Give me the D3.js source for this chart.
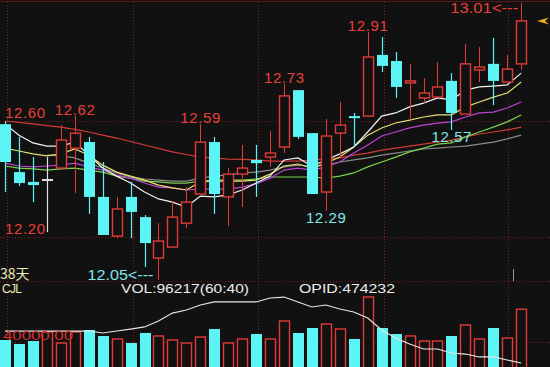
<!DOCTYPE html>
<html lang="zh">
<head>
<meta charset="UTF-8">
<title>K线</title>
<script src="https://d3js.org/d3.v7.min.js"></script>
<style>
  body, html { margin: 0; padding: 0; background: #111; overflow: hidden; }
  svg text { font-family: "Liberation Sans", Arial, sans-serif; }
</style>
</head>
<body>
<svg id="chart" width="550" height="367"></svg>
<script>
// daily candles, 38 days
const opens  = [12.59, 12.424, 12.390, 12.400, 12.438, 12.507, 12.528, 12.338, 12.202, 12.338,
                12.268, 12.126, 12.164, 12.247, 12.348, 12.528, 12.338, 12.417, 12.466, 12.476,
                12.511, 12.708, 12.559, 12.355, 12.559, 12.618, 12.618, 12.830, 12.809, 12.733,
                12.681, 12.684, 12.740, 12.625, 12.778, 12.799, 12.736, 12.799];
const highs  = [12.60, 12.546, 12.476, 12.476, 12.587, 12.62, 12.546, 12.459, 12.338, 12.390,
                12.275, 12.247, 12.324, 12.372, 12.59, 12.546, 12.438, 12.518, 12.518, 12.566,
                12.73, 12.708, 12.559, 12.608, 12.667, 12.629, 12.91, 12.892, 12.840, 12.799,
                12.750, 12.805, 12.767, 12.868, 12.857, 12.889, 12.830, 13.01];
const lows   = [12.355, 12.376, 12.320, 12.216, 12.438, 12.351, 12.279, 12.206, 12.195, 12.195,
                12.095, 12.05, 12.164, 12.230, 12.348, 12.279, 12.237, 12.303, 12.338, 12.442,
                12.490, 12.539, 12.348, 12.29, 12.476, 12.511, 12.618, 12.771, 12.681, 12.604,
                12.663, 12.684, 12.57, 12.625, 12.736, 12.656, 12.736, 12.778];
const closes = [12.459, 12.386, 12.379, 12.400, 12.535, 12.559, 12.338, 12.206, 12.296, 12.286,
                12.178, 12.185, 12.268, 12.320, 12.528, 12.348, 12.417, 12.438, 12.455, 12.490,
                12.688, 12.546, 12.348, 12.549, 12.587, 12.611, 12.823, 12.792, 12.719, 12.740,
                12.698, 12.719, 12.629, 12.799, 12.788, 12.740, 12.781, 12.948];

const volumes = [45000, 38300, 43300, 58300, 40000, 58300, 61700, 51700, 46700, 40000,
                 56700, 51700, 45000, 40000, 50000, 63300, 40000, 46700, 55000, 46700,
                 76700, 56700, 65000, 71700, 63300, 46700, 116700, 65000, 55000, 51700,
                 43300, 43300, 51700, 70000, 46700, 65000, 48300, 96217];
const opid = [508000, 508000, 508000, 508000, 508000, 508000, 508000, 505900, 508000, 510100,
              512300, 518600, 527000, 530200, 535500, 538700, 538700, 538700, 538700, 542900,
              543900, 538700, 533400, 535500, 531300, 528100, 521800, 509100, 500600, 494300,
              489000, 489000, 484800, 483700, 480600, 480600, 477400, 474232];

// moving averages (null = not drawn)
const maWhite  = [12.591, 12.552, 12.525, 12.514, 12.514, 12.528, 12.483, 12.438, 12.410, 12.386,
                  12.355, 12.331, 12.320, 12.303, 12.341, 12.338, 12.345, 12.362, 12.386, 12.410,
                  12.466, 12.473, 12.445, 12.466, 12.487, 12.511, 12.563, 12.618, 12.629, 12.650,
                  12.663, 12.681, 12.674, 12.708, 12.719, 12.722, 12.726, 12.767];
const maYellow = [12.507, 12.497, 12.487, 12.480, 12.487, 12.504, 12.483, 12.448, 12.424, 12.410,
                  12.396, 12.379, 12.369, 12.362, 12.390, 12.393, 12.393, 12.393, 12.396, 12.417,
                  12.445, 12.452, 12.438, 12.455, 12.476, 12.511, 12.552, 12.577, 12.594, 12.604,
                  12.615, 12.622, 12.622, 12.650, 12.667, 12.684, 12.698, 12.736];
const maPurple = [12.455, 12.445, 12.442, 12.445, 12.448, 12.455, 12.442, 12.431, 12.414, 12.403,
                  12.386, 12.372, 12.369, 12.362, 12.365, 12.365, 12.365, 12.372, 12.383, 12.403,
                  12.431, 12.438, 12.431, 12.442, 12.459, 12.490, 12.518, 12.549, 12.563, 12.577,
                  12.587, 12.594, 12.598, 12.615, 12.629, 12.632, 12.646, 12.667];
const maGreen  = [12.445, 12.438, 12.435, 12.431, 12.435, 12.438, 12.431, 12.424, 12.410, 12.403,
                  12.393, 12.390, 12.386, 12.386, 12.393, 12.396, 12.396, 12.396, 12.400, 12.407,
                  12.407, 12.407, 12.407, 12.403, 12.410, 12.421, 12.442, 12.459, 12.476, 12.494,
                  12.507, 12.521, 12.525, 12.546, 12.563, 12.580, 12.598, 12.622];
const maRed    = [12.601, 12.596, 12.591, 12.585, 12.580, 12.572, 12.563, 12.552, 12.542, 12.530,
                  12.518, 12.506, 12.494, 12.485, 12.476, 12.473, 12.469, 12.468, 12.466, 12.462,
                  12.462, 12.462, 12.466, 12.469, 12.473, 12.483, 12.490, 12.500, 12.507, 12.514,
                  12.521, 12.528, 12.535, 12.546, 12.556, 12.563, 12.570, 12.580];
const maGray   = [null, null, null, 12.483, 12.480, 12.473, 12.455, 12.438, 12.421, 12.407,
                  12.400, 12.396, 12.393, 12.393, 12.403, 12.410, 12.414, 12.421, 12.424, 12.431,
                  12.442, 12.448, 12.445, 12.448, 12.459, 12.466, 12.473, 12.483, 12.490, 12.497,
                  12.504, 12.507, 12.511, 12.514, 12.521, 12.528, 12.539, 12.552];

// axis ticks
const priceTicks = [12.60, 12.20];
const volTicks = [40000];

// price marks: [day, text, kind]
const priceMarks = [
  [5, "12.62", "high"], [14, "12.59", "high"], [20, "12.73", "high"],
  [26, "12.91", "high"], [37, "13.01<---", "max"],
  [11, "12.05<---", "min"], [23, "12.29", "low"], [32, "12.57", "low"]
];

const RED = "#e23a36", CYAN = "#5cf4f4", GRID = "#7a1c1c", LABEL_RED = "#e8403a";

const svg = d3.select("#chart");
svg.append("rect").attr("width", 550).attr("height", 367).attr("fill", "#111");

const x = d3.scaleLinear().domain([0, 37]).range([5, 521.2]);
const y = d3.scaleLinear().domain([12.05, 13.01]).range([280, 3]);
const yVol = d3.scaleLinear().domain([0, 40000]).range([367, 343]);
const yOpid = d3.scaleLinear().domain([470000, 545000]).range([367, 296]);

// grid
const grid = svg.append("g");
[7, 133, 258, 384, 508].forEach(gx => {
  grid.append("line").attr("x1", gx + 0.5).attr("x2", gx + 0.5).attr("y1", 2).attr("y2", 367)
    .attr("stroke", GRID).attr("stroke-dasharray", "1,2");
});
const hLines = priceTicks.map(p => Math.round(y(p))).concat([281], volTicks.map(v => Math.round(yVol(v)) - 1));
hLines.forEach(gy => {
  grid.append("line").attr("x1", 0).attr("x2", 550).attr("y1", gy + 0.5).attr("y2", gy + 0.5)
    .attr("stroke", GRID).attr("stroke-dasharray", "1,2");
});
grid.append("line").attr("x1", 0).attr("x2", 550).attr("y1", 1.5).attr("y2", 1.5)
  .attr("stroke", "#5a1818");

// moving averages
const line = d3.line().defined(d => d != null).x((d, i) => x(i)).y(d => y(d));
[[maRed, "#d23a34"], [maGray, "#8a8a8a"], [maGreen, "#7ad24c"], [maPurple, "#c040d8"],
 [maYellow, "#e8e070"], [maWhite, "#f2f2f2"]].forEach(([vals, c]) => {
  svg.append("path").attr("d", line(vals)).attr("fill", "none").attr("stroke", c).attr("stroke-width", 1.2);
});

// candles
const bw = 10;
const candles = svg.append("g");
d3.range(38).forEach(i => {
  const cx = Math.round(x(i)) + 0.5;
  const o = opens[i], c = closes[i];
  const top = y(Math.max(o, c)), bot = y(Math.min(o, c));
  const col = c > o ? RED : (c < o ? CYAN : "#e0e0e0");
  const g = candles.append("g");
  if (c > o) {
    g.append("line").attr("x1", cx).attr("x2", cx).attr("y1", y(highs[i])).attr("y2", top).attr("stroke", col);
    g.append("line").attr("x1", cx).attr("x2", cx).attr("y1", bot).attr("y2", y(lows[i])).attr("stroke", col);
    g.append("rect").attr("x", cx - bw / 2).attr("y", top).attr("width", bw).attr("height", Math.max(1, bot - top))
      .attr("fill", "#111").attr("stroke", col).attr("stroke-width", 1.4);
  } else {
    g.append("line").attr("x1", cx).attr("x2", cx).attr("y1", y(highs[i])).attr("y2", y(lows[i])).attr("stroke", col).attr("stroke-width", 1.2);
    g.append("rect").attr("x", cx - bw / 2 - 0.5).attr("y", top).attr("width", bw + 1).attr("height", Math.max(2, bot - top))
      .attr("fill", col);
  }
});

// axis labels on the left
const axisG = svg.append("g").attr("font-size", 15).attr("fill", LABEL_RED);
priceTicks.forEach(p => {
  axisG.append("text").attr("x", 5).attr("y", Math.round(y(p)) - 3).attr("textLength", 40).text(p.toFixed(2));
});

// price marks
const marks = svg.append("g").attr("font-size", 15);
priceMarks.forEach(([i, t, kind]) => {
  const isHigh = kind === "high" || kind === "max";
  const tx = marks.append("text").text(t).attr("fill", isHigh ? LABEL_RED : "#7ee8ea");
  if (kind === "high") {
    tx.attr("x", x(i) - 20).attr("y", y(highs[i]) - 1).attr("textLength", 40);
  } else if (kind === "max") {
    tx.attr("x", x(i) - 71).attr("y", 12.5).attr("textLength", 68).attr("lengthAdjust", "spacingAndGlyphs");
  } else if (kind === "min") {
    tx.attr("x", x(i) - 71).attr("y", y(lows[i])).attr("textLength", 66).attr("lengthAdjust", "spacingAndGlyphs");
  } else {
    tx.attr("x", x(i) - 20).attr("y", y(lows[i]) + 12.5).attr("textLength", 40);
  }
});

// latest-price marker
svg.append("polygon").attr("points", "537,21 549,17.5 545,21 549,24.5").attr("fill", "#f0a828");

// volume
const vol = svg.append("g");
d3.range(38).forEach(i => {
  const cx = Math.round(x(i)) + 0.5;
  const up = closes[i] >= opens[i];
  const ty = yVol(volumes[i]);
  if (up) {
    vol.append("rect").attr("x", cx - bw / 2).attr("y", ty).attr("width", bw).attr("height", 368 - ty)
      .attr("fill", "#111").attr("stroke", RED).attr("stroke-width", 1.4);
  } else {
    vol.append("rect").attr("x", cx - bw / 2 - 0.5).attr("y", ty).attr("width", bw + 1).attr("height", 368 - ty)
      .attr("fill", CYAN);
  }
});
svg.append("path").attr("d", d3.line().x((d, i) => x(i)).y(d => yOpid(d))(opid))
  .attr("fill", "none").attr("stroke", "#e6e6e6").attr("stroke-width", 1.2);

// cursor tick
svg.append("line").attr("x1", 513.5).attr("x2", 513.5).attr("y1", 269).attr("y2", 281).attr("stroke", "#9a9a9a");

// captions
svg.append("text").attr("x", 0).attr("y", 279).attr("fill", "#eeeeb0").attr("font-size", 14)
  .style("font-family", "'Noto Sans CJK SC', sans-serif").text("38天");
svg.append("text").attr("x", 2).attr("y", 292.5).attr("fill", "#eeeeb0").attr("font-size", 12).attr("textLength", 20).text("CJL");
svg.append("text").attr("x", 121).attr("y", 293).attr("fill", "#ececec").attr("font-size", 12.5)
  .attr("textLength", 128).attr("lengthAdjust", "spacingAndGlyphs").text("VOL:96217(60:40)");
svg.append("text").attr("x", 299).attr("y", 293).attr("fill", "#ececec").attr("font-size", 12.5)
  .attr("textLength", 96).attr("lengthAdjust", "spacingAndGlyphs").text("OPID:474232");
svg.append("text").attr("x", 3).attr("y", Math.round(yVol(volTicks[0])) - 3).attr("fill", "#d8302c").attr("font-size", 13)
  .attr("textLength", 70).attr("lengthAdjust", "spacingAndGlyphs").text(volTicks[0].toFixed(2));
</script>
</body>
</html>
